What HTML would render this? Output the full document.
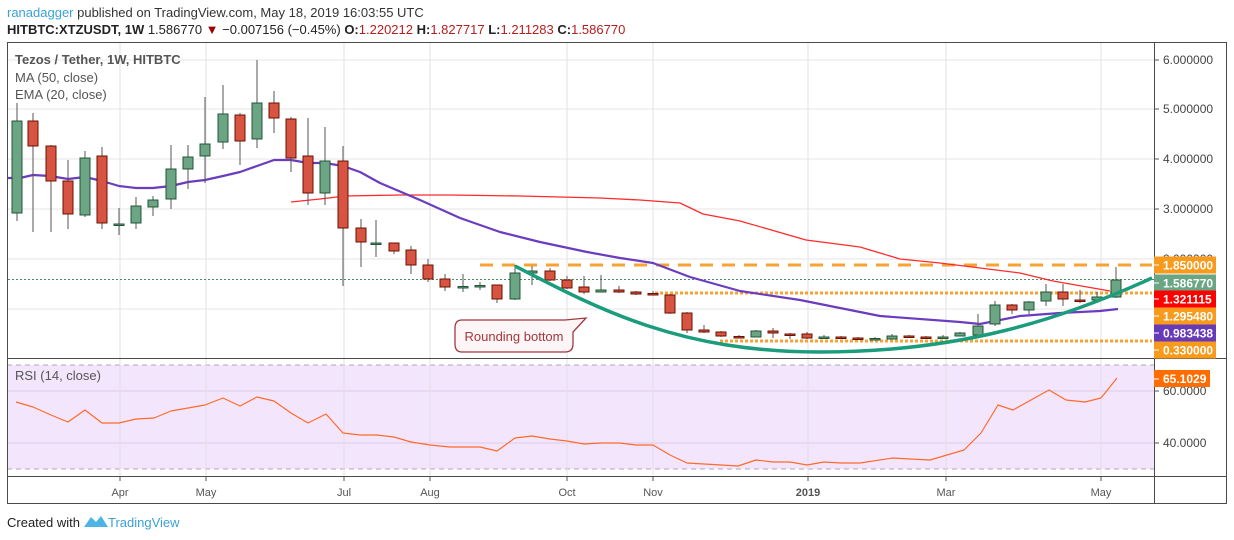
<!DOCTYPE html>
<html><head><meta charset="utf-8"><style>
html,body{margin:0;padding:0;background:#fff;width:1234px;height:540px;overflow:hidden;font-family:"Liberation Sans",sans-serif}
.h1{position:absolute;left:7px;top:5px;font-size:13px;color:#333;white-space:nowrap}
.h2{position:absolute;left:7px;top:22px;font-size:13px;color:#222;white-space:nowrap}
.r{color:#b71c1c}
</style></head><body>
<div class="h1"><span style="color:#3ca0d8">ranadagger</span> published on TradingView.com, May 18, 2019 16:03:55 UTC</div>
<div class="h2"><b>HITBTC:XTZUSDT, 1W</b> 1.586770 <span style="color:#9b0000">▼</span> −0.007156 (−0.45%) <b>O:</b><span class="r">1.220212</span> <b>H:</b><span class="r">1.827717</span> <b>L:</b><span class="r">1.211283</span> <b>C:</b><span class="r">1.586770</span></div>
<svg id="s" width="1234" height="540" style="position:absolute;left:0;top:0" xmlns="http://www.w3.org/2000/svg" font-family="Liberation Sans, sans-serif"></svg>
<script>
var s='';
// grid
[60,109,159,209,259,309].forEach(y=>s+=`<line x1="7" x2="1154" y1="${y}" y2="${y}" stroke="#e6e6e6"/>`);
// rsi bg
s+=`<rect x="7" y="365" width="1147" height="104" fill="#f3e6fc"/>`;
s+=`<line x1="7" x2="1154" y1="391" y2="391" stroke="#dccbe6"/><line x1="7" x2="1154" y1="443" y2="443" stroke="#dccbe6"/>`;
s+=`<line x1="7" x2="1154" y1="365" y2="365" stroke="#b0a6b6" stroke-dasharray="5,4"/><line x1="7" x2="1154" y1="469" y2="469" stroke="#b0a6b6" stroke-dasharray="5,4"/>`;
[120,206,344,430,567,653,808,946,1101].forEach(x=>{s+=`<line x1="${x}" x2="${x}" y1="42" y2="476" stroke="#e3dfe6"/><line x1="${x}" x2="${x}" y1="476" y2="481" stroke="#555"/>`});
// frames
s+=`<rect x="7.5" y="42.5" width="1219" height="461" fill="none" stroke="#4a4a4a"/>`;
s+=`<line x1="7" x2="1227" y1="358.5" y2="358.5" stroke="#4a4a4a"/><line x1="7" x2="1227" y1="476.5" y2="476.5" stroke="#4a4a4a"/><line x1="1154.5" x2="1154.5" y1="42" y2="503" stroke="#4a4a4a"/>`;
// price line
s+=`<line x1="8" x2="1154" y1="279.5" y2="279.5" stroke="#4a8a66" stroke-dasharray="2,2"/>`;
// orange lines
s+=`<line x1="480" x2="1152" y1="265" y2="265" stroke="#f7a233" stroke-width="3" stroke-dasharray="13,9"/>`;
s+=`<line x1="655" x2="1152" y1="293" y2="293" stroke="#f7a233" stroke-width="3" stroke-dasharray="3,2"/>`;
s+=`<line x1="720" x2="1152" y1="341" y2="341" stroke="#f7a233" stroke-width="3" stroke-dasharray="3,2"/>`;
function pl(p,c,w){return `<polyline fill="none" stroke="${c}" stroke-width="${w}" stroke-linejoin="round" points="${p.map(a=>a.join(',')).join(' ')}"/>`}
// MA50
s+=pl([[291,202],[320,199],[345,196],[400,195],[450,195],[520,196],[600,198],[640,200],[680,203],[703,214],[740,221],[806,240],[860,247],[900,259],[940,263],[1020,273],[1053,281],[1110,291]],'#ff2b2b',1.3);
// EMA20
s+=pl([[8,178],[20,178],[33,175],[50,176],[68,179],[85,177],[102,181],[119,186],[136,188],[153,188],[171,186],[188,182],[205,180],[223,176],[240,172],[257,166],[274,160],[291,160],[308,163],[325,163],[343,166],[360,172],[380,183],[420,200],[460,218],[500,232],[540,242],[587,252],[620,258],[653,263],[690,277],[740,291],[800,300],[880,316],[960,322],[980,324],[1020,316],[1060,313],[1100,311],[1118,309]],'#6a3cc0',2.2);
// candles
var C=[[17,213,121,103,221],[33,121,146,113,232],[51,146,181,145,232],[68,181,214,160,229],[85,215,158,151,217],[102,156,223,147,229],[119,224,224,208,235],[136,223,206,197,229],[153,207,200,196,216],[171,199,169,145,209],[188,169,157,145,189],[205,156,144,97,183],[223,142,114,85,149],[240,115,141,113,165],[257,139,103,60,148],[274,103,118,91,133],[291,119,158,117,172],[308,156,193,118,205],[325,193,161,127,205],[343,161,228,146,286],[361,228,242,219,267],[376,243,243,220,257],[394,243,251,243,254],[411,250,265,246,274],[428,265,279,259,282],[445,279,287,274,291],[463,287.5,286.5,274,292],[480,286.5,285.5,282,290],[497,285,299,285,303],[515,299,273,265,300],[532,273,271,266,285],[550,271,280,268,281],[567,280,288,276,289],[584,287,292,276,294],[601,292,290,275,292],[619,290,292,286,293],[636,292,294,291,295],[653,293.5,294.5,291,295],[670,295,313,294,314],[687,313,330,312,333],[704,330,332,325,333],[721,332,336,331,337],[739,336.5,337.5,335,338],[756,337,331,330,337],[773,331,333,328,338],[790,334,335,333,339],[807,334,338,332,339],[824,338,337,335,338],[841,337,338,336,339],[858,338,339,337,340],[875,339.5,338.5,337,340],[892,339,336,334,339],[909,336,337,335,338],[926,337,338,336,339],[943,338,337,335,338],[960,336,333,332,336],[978,335,326,314,336],[995,324,305,301,326],[1012,305,310,304,314],[1029,310,302,301,314],[1046,301,292,284,306],[1063,292,299,284,306],[1080,300,301,290,303],[1097,300,297,292,303],[1116,297,280,267,298]];
C.forEach(c=>{var [x,o,cl,h,l]=c,g=cl<=o,f=g?'#6ba583':'#d75442',st=g?'#225437':'#6b1100';
var t=Math.min(o,cl),b=Math.max(Math.max(o,cl)-t,1.5);
s+=`<line x1="${x}" x2="${x}" y1="${h}" y2="${l}" stroke="#555"/><rect x="${x-5}" y="${t}" width="10" height="${b}" fill="${f}" stroke="${st}"/>`;});
// rounding bottom curve
s+=`<path d="M515,266 C600,310 680,352 820,352 C960,352 1060,320 1152,278" fill="none" stroke="#1b9c7c" stroke-width="3.5"/>`;
// callout
s+=`<path d="M462,320 H565 L586,318 L573,332 V344 Q573,352 565,352 H462 Q455,352 455,344 V328 Q455,320 462,320 Z" fill="#fdf5f6" stroke="#a3383d" stroke-width="1.3"/>`;
s+=`<text x="514" y="341" font-size="13" fill="#a3383d" text-anchor="middle">Rounding bottom</text>`;
// RSI
var R=[[16,402],[33,407],[51,415],[68,422],[85,410],[102,423],[119,423],[136,419],[154,418],[171,411],[188,408],[205,405],[223,398],[240,406],[257,397],[274,401],[291,413],[308,423],[326,414],[343,433],[360,435],[377,435],[394,437],[411,442],[430,445],[450,447],[480,447],[497,451],[515,438],[532,436],[550,439],[567,441],[584,444],[601,443],[619,443],[636,445],[653,445],[670,455],[687,463],[704,464],[721,465],[738,466],[756,460],[773,462],[790,462],[807,465],[824,462],[841,463],[860,463],[893,458],[910,459],[930,460],[947,455],[964,450],[981,433],[998,405],[1013,410],[1049,390],[1066,400],[1085,402],[1101,398],[1117,378]];
s+=pl(R,'#ff6a2b',1.2);
// legends
s+=`<text x="15" y="64" font-size="13" fill="#555" font-weight="bold">Tezos / Tether, 1W, HITBTC</text><text x="15" y="82" font-size="13" fill="#555">MA (50, close)</text><text x="15" y="99" font-size="13" fill="#555">EMA (20, close)</text><text x="15" y="380" font-size="13" fill="#555">RSI (14, close)</text>`;
// price axis
[[60,'6.000000'],[109,'5.000000'],[159,'4.000000'],[209,'3.000000'],[259,'2.000000']].forEach(a=>s+=`<line x1="1154" x2="1159" y1="${a[0]}" y2="${a[0]}" stroke="#555"/><text x="1163" y="${a[0]+4}" font-size="12" fill="#444">${a[1]}</text>`);
[[391,'60.0000'],[443,'40.0000']].forEach(a=>s+=`<line x1="1154" x2="1159" y1="${a[0]}" y2="${a[0]}" stroke="#555"/><text x="1163" y="${a[0]+4}" font-size="12" fill="#444">${a[1]}</text>`);
[[265,'#f89a1c','1.850000'],[283,'#6aa684','1.586770'],[299,'#ff0000','1.321115'],[316,'#f89a1c','1.295480'],[333,'#673ab7','0.983438'],[350,'#f89a1c','0.330000']].forEach(a=>s+=`<rect x="1154" y="${a[0]-8.5}" width="62" height="17" fill="${a[1]}"/><line x1="1154" x2="1159" y1="${a[0]}" y2="${a[0]}" stroke="#fff"/><text x="1163" y="${a[0]+4.5}" font-size="12" font-weight="bold" fill="#fff">${a[2]}</text>`);
s+=`<rect x="1154" y="370" width="56" height="17" fill="#ff6d00"/><line x1="1154" x2="1159" y1="379" y2="379" stroke="#fff"/><text x="1163" y="383" font-size="12" font-weight="bold" fill="#fff">65.1029</text>`;
// time labels
[[120,'Apr'],[206,'May'],[344,'Jul'],[430,'Aug'],[567,'Oct'],[653,'Nov'],[808,'2019'],[946,'Mar'],[1101,'May']].forEach(a=>s+=`<text x="${a[0]}" y="496" font-size="11" fill="#555" text-anchor="middle" ${a[1]=='2019'?'font-weight="bold"':''}>${a[1]}</text>`);
// footer
s+=`<text x="7" y="527" font-size="13" fill="#222">Created with</text><path d="M84,527 L91,517 L96,522 L101,516 L108,527 Z" fill="#4db4e6"/><text x="108" y="527" font-size="13" fill="#3ca0d8">TradingView</text>`;
document.getElementById('s').innerHTML=s;
</script>
</body></html>
